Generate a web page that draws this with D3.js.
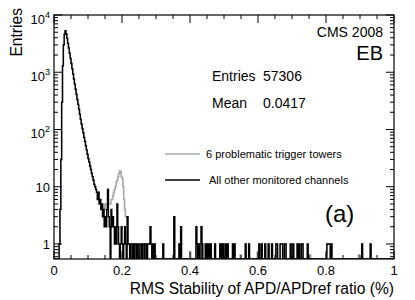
<!DOCTYPE html>
<html><head><meta charset="utf-8">
<script src="https://cdn.jsdelivr.net/npm/d3@7"></script>
<style>body{margin:0;background:#fff} text{font-family:"Liberation Sans",Arial,Helvetica,sans-serif}</style>
</head><body><svg id="c" width="415" height="300"></svg>
<script>
// ---------- data ----------
const binWidth = 0.0025;
// "All other monitored channels" (black)
const blackCoreStart = 0.015;
const blackCore = [1,4,30,300,1300,3000,4600,5300,4700,3900,3200,2650,2150,1750,1420,1150,930,760,620,505,410,335,275,225,185,150,125,104,88,73,62,52,44,37,31,27,23,20,17,15,13,11,10,9,8,6,8,5,6,4,5,3,4,2,3,2,4,9,3,2,0,4,2,3,2,1,2,1,5,2,1,0,1,2,1,0,1,2,1,0,3,1,1,0,1,1,0,1,0,1,1,0,1,0];
const blackTailX = [0.2525,0.255,0.26,0.2625,0.2675,0.27,0.275,0.2775,0.28,0.2825,0.285,0.29,0.295,0.32,0.3525,0.3675,0.3725,0.4175,0.42,0.425,0.4325,0.435,0.445,0.45,0.455,0.46,0.4725,0.4875,0.4925,0.4975,0.505,0.51,0.525,0.53,0.5625,0.5725,0.6025,0.61,0.62,0.63,0.64,0.6525,0.655,0.665,0.6675,0.67,0.6775,0.68,0.695,0.7025,0.715,0.72,0.7275,0.73,0.745,0.8025,0.805,0.8075,0.81,0.815,0.905,0.93];
const blackTailN = [1,1,1,1,1,1,1,1,1,2,1,1,1,1,3,1,2,2,1,1,2,1,1,1,1,1,1,1,1,1,1,1,1,1,1,1,1,1,1,1,1,1,1,1,1,1,1,1,1,1,1,1,1,1,1,1,1,1,1,1,1,1];
// "6 problematic trigger towers" (grey) — visible only where it rises above the black
const grayCoreStart = 0.1275;
const grayCore = [6,8,6,6,5,5,5,4,5,4,5,5,9,5,5,5,6,6,7,8,9,10,12,13,15,17,19,18,15,14,10,6,4,3,3,3,1,1];
const grayTailX = [0.4,0.5475,0.5975,0.7525,0.8,0.895];
const grayTailN = [0.7,0.65,0.7,0.65,0.65,0.65];
const xTickValues = [0,0.2,0.4,0.6,0.8,1];
const xTickLabels = ["0","0.2","0.4","0.6","0.8","1"];
const yTickValues = [1,10,100,1000,10000];
const yTickBase = ["1","10","10","10","10"];
const yTickExp = ["","","2","3","4"];
const statNames = ["Entries","Mean"];
const statValues = ["57306","0.0417"];
const legendLabels = ["6 problematic trigger towers","All other monitored channels"];
const legendColors = ["#a8a8a8","#000000"];
const xTitle = "RMS Stability of APD/APDref ratio (%)";
const yTitle = "Entries";

// ---------- layout ----------
const L = 54, R = 394, T = 15, B = 259;
const yMin = 0.547, yMax = 10000;
const svg = d3.select("#c");
const x = d3.scaleLinear().domain([0,1]).range([L,R]);
const y = d3.scaleLog().domain([yMin,yMax]).range([B,T]);

const nBins = Math.round(1/binWidth);
function fillBins(a, start, core, tx, tn){
  const s = Math.round(start/binWidth);
  core.forEach((v,i)=>{ a[s+i] = v; });
  tx.forEach((xv,i)=>{ a[Math.round(xv/binWidth)] = tn[i]; });
  return a;
}
const blackBins = fillBins(new Array(nBins).fill(0), blackCoreStart, blackCore, blackTailX, blackTailN);
// grey histogram overlaps the black one outside the listed bins
const grayBins = fillBins(blackBins.slice(), grayCoreStart, grayCore, grayTailX, grayTailN);

svg.append("defs").append("clipPath").attr("id","clip")
  .append("rect").attr("x",L).attr("y",T).attr("width",R-L).attr("height",B-T);

const line = d3.line().x(d=>x(d[0])).y(d=>y(Math.max(d[1],yMin))).curve(d3.curveStepAfter);
function histPts(bins){
  const p = [[0,yMin]];
  bins.forEach((v,i)=>p.push([i*binWidth, v]));
  p.push([1,yMin]);
  return p;
}
const g = svg.append("g").attr("clip-path","url(#clip)");
g.append("path").attr("d", line(histPts(grayBins))).attr("fill","none")
  .attr("stroke",legendColors[0]).attr("stroke-width",1.6);
g.append("path").attr("d", line(histPts(blackBins))).attr("fill","none")
  .attr("stroke",legendColors[1]).attr("stroke-width",1.4);

// ---------- axes ----------
const ax = svg.append("g").attr("stroke","#000").attr("stroke-width",1);
const xMinor = d3.range(0,1.0001,0.05);
xMinor.forEach(v=>{
  const major = xTickValues.some(t=>Math.abs(t-v)<1e-6);
  const len = major ? 8 : 4;
  ax.append("line").attr("x1",x(v)).attr("x2",x(v)).attr("y1",B).attr("y2",B-len);
  ax.append("line").attr("x1",x(v)).attr("x2",x(v)).attr("y1",T).attr("y2",T+len);
});
const yMinor = [];
[0.1,1,10,100,1000].forEach(d=>{ for(let k=1;k<=9;k++){ const v=d*k; if(v>=yMin && v<=yMax) yMinor.push(v);} });
yMinor.push(10000);
yMinor.forEach(v=>{
  const major = yTickValues.some(t=>Math.abs(t-v)/t<1e-6);
  const len = major ? 8 : 4;
  ax.append("line").attr("x1",L).attr("x2",L+len).attr("y1",y(v)).attr("y2",y(v));
  ax.append("line").attr("x1",R).attr("x2",R-len).attr("y1",y(v)).attr("y2",y(v));
});
svg.append("rect").attr("x",L).attr("y",T).attr("width",R-L).attr("height",B-T)
  .attr("fill","none").attr("stroke","#000").attr("stroke-width",1.2);

// tick labels
xTickValues.forEach((v,i)=>{
  svg.append("text").attr("x",x(v)).attr("y",275).attr("text-anchor","middle")
    .attr("font-size",13).text(xTickLabels[i]);
});
yTickValues.forEach((v,i)=>{
  const t = svg.append("text").attr("x",50).attr("y",y(v)+(yTickExp[i]? 9:5)).attr("text-anchor","end").attr("font-size",13);
  t.append("tspan").text(yTickBase[i]);
  if(yTickExp[i]) t.append("tspan").attr("dy",-6).attr("font-size",9).text(yTickExp[i]);
});

// titles
svg.append("text").attr("x",R).attr("y",294).attr("text-anchor","end").attr("font-size",15.6).text(xTitle);
svg.append("text").attr("transform","translate(22,8) rotate(-90)").attr("text-anchor","end").attr("font-size",15.6).text(yTitle);

// annotations
svg.append("text").attr("x",383).attr("y",37).attr("text-anchor","end").attr("font-size",14).text("CMS 2008");
svg.append("text").attr("x",383).attr("y",60).attr("text-anchor","end").attr("font-size",20).text("EB");
statNames.forEach((n,i)=>{
  svg.append("text").attr("x",212).attr("y",81+i*27).attr("font-size",14).text(n);
  svg.append("text").attr("x",263).attr("y",81+i*27).attr("font-size",14).text(statValues[i]);
});
svg.append("text").attr("x",325).attr("y",222).attr("font-size",24).text("(a)");

// legend
const legX = [206,209];
legendLabels.forEach((lab,i)=>{
  const ly = 154 + i*26;
  svg.append("line").attr("x1",165).attr("x2",200).attr("y1",ly).attr("y2",ly)
    .attr("stroke",legendColors[i]).attr("stroke-width",1.6);
  svg.append("text").attr("x",legX[i]).attr("y",ly+4).attr("font-size",11).text(lab);
});
</script></body></html>
